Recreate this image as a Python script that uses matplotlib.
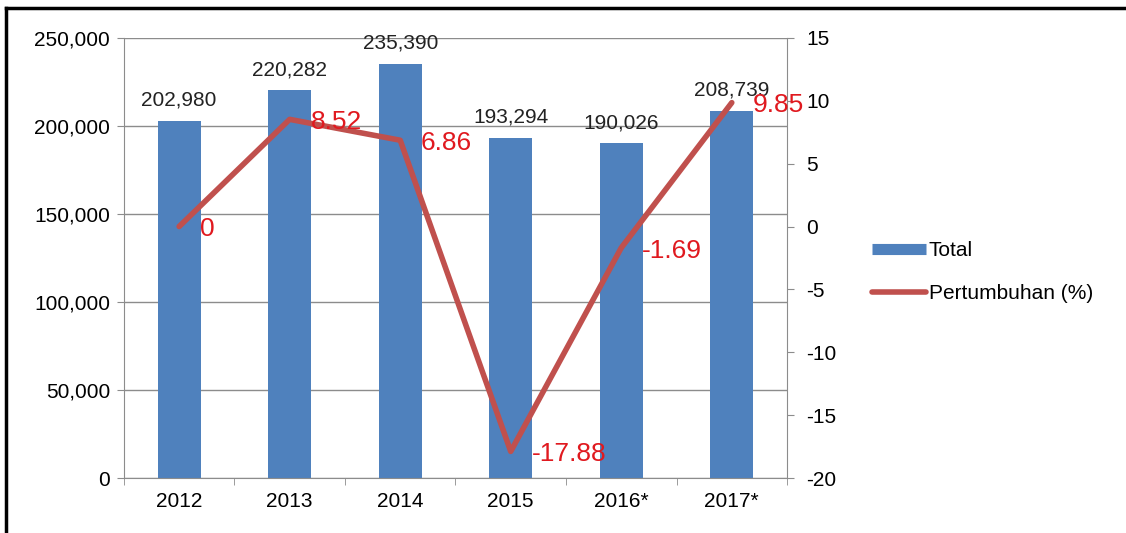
import matplotlib.pyplot as plt
import matplotlib.lines as mlines
import numpy as np

plt.rcParams['font.family'] = ['Liberation Sans', 'DejaVu Sans']
plt.rcParams['axes.unicode_minus'] = False

# --- data ---
years = ['2012', '2013', '2014', '2015', '2016*', '2017*']
total = [202980, 220282, 235390, 193294, 190026, 208739]
growth = [0, 8.52, 6.86, -17.88, -1.69, 9.85]
growth_labels = ['0', '8.52', '6.86', '-17.88', '-1.69', '9.85']

bar_color = '#4F81BD'
line_color = '#C0504D'
label_red = '#E0191F'
grid_gray = '#8C8C8C'

fig = plt.figure(figsize=(11.26, 5.33), dpi=100)
ax = fig.add_axes([0.110, 0.103, 0.589, 0.826])
x = np.arange(len(years))

# --- bars ---
ax.bar(x, total, width=0.39, color=bar_color, zorder=2)
for xi, v in zip(x, total):
    ax.annotate(f'{v:,}', (xi, v), xytext=(0, 8), textcoords='offset points',
                ha='center', va='bottom', fontsize=15, color='#222222')

ax.set_xlim(-0.5, len(years) - 0.5)
ax.set_ylim(0, 250000)
ax.set_yticks(np.arange(0, 250001, 50000))
ax.set_yticklabels([f'{v:,}' for v in range(0, 250001, 50000)])
ax.yaxis.grid(True, color=grid_gray, linewidth=1.0, zorder=0)
ax.set_axisbelow(True)
ax.set_xticks(x)
ax.set_xticklabels(years)
ax.set_xticks(np.arange(-0.5, len(years)), minor=True)
ax.tick_params(axis='x', which='major', length=0, pad=10, labelsize=15)
ax.tick_params(axis='x', which='minor', length=5, color=grid_gray)
ax.tick_params(axis='y', length=5, color=grid_gray, labelsize=15, pad=5)
for s in ['left', 'bottom']:
    ax.spines[s].set_color(grid_gray)
ax.spines['top'].set_visible(False)
ax.spines['right'].set_visible(False)

# --- growth line ---
ax2 = ax.twinx()
ax2.plot(x, growth, color=line_color, linewidth=4, solid_capstyle='round', zorder=3)
for xi, g, lab in zip(x, growth, growth_labels):
    ax2.annotate(lab, (xi, g), xytext=(15, -2), textcoords='offset points',
                 ha='left', va='center', fontsize=19, color=label_red)
ax2.set_ylim(-20, 15)
ax2.set_yticks(np.arange(-20, 16, 5))
ax2.tick_params(axis='y', length=5, color=grid_gray, labelsize=15, pad=9)
ax2.spines['right'].set_color(grid_gray)
for s in ['left', 'top', 'bottom']:
    ax2.spines[s].set_visible(False)

# --- legend ---
h_total = mlines.Line2D([], [], color=bar_color, linewidth=8, solid_capstyle='butt')
h_growth = mlines.Line2D([], [], color=line_color, linewidth=4, solid_capstyle='round')
fig.legend([h_total, h_growth], ['Total', 'Pertumbuhan (%)'],
           loc='center left', bbox_to_anchor=(0.758, 0.49), frameon=False,
           fontsize=15, handlelength=2.6, handletextpad=0.1, labelspacing=1.15)

# --- outer border (top and left) ---
fig.add_artist(mlines.Line2D([0.005, 1.0], [0.985, 0.985], color='black', linewidth=2.5,
                             transform=fig.transFigure))
fig.add_artist(mlines.Line2D([0.005, 0.005], [0.0, 0.985], color='black', linewidth=2.5,
                             transform=fig.transFigure))

fig.savefig('out.png', dpi=100)
